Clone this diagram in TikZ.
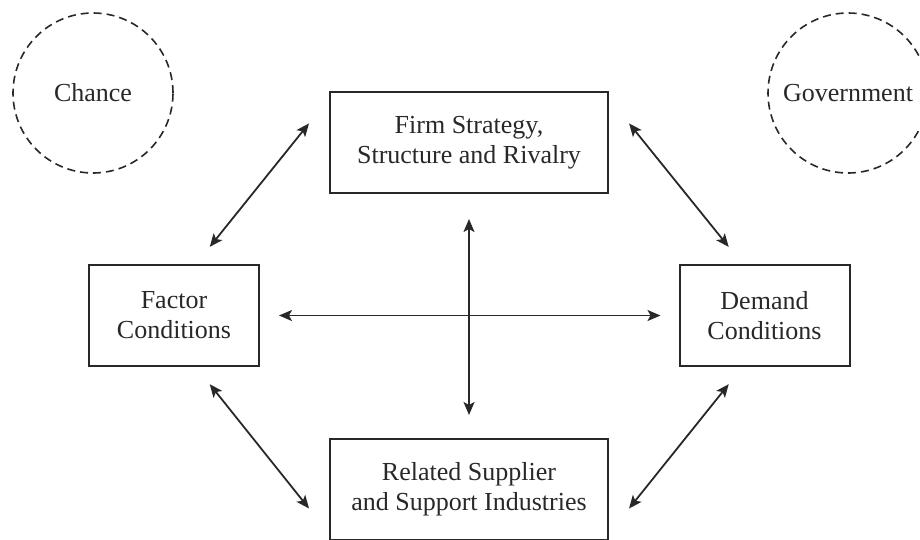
\documentclass[tikz,border=0pt]{standalone}
\usepackage{fontspec}
\setmainfont{Liberation Serif}
\usepackage{tikz}
\definecolor{ink}{RGB}{40,40,40}
\usetikzlibrary{positioning,arrows.meta,calc}
\tikzset{%
  factor/.style={draw=ink, line width=2pt, rectangle, minimum height=101pt,
    align=center, text=ink, font=\fontsize{26}{30}\selectfont},% diamond box
  smallbox/.style={factor, minimum width=170pt},% side boxes
  widebox/.style={factor, minimum width=278pt},% top / bottom boxes
  outside/.style={draw=ink, circle, dashed, dash pattern=on 8pt off 5pt,
    line width=1.6pt, minimum size=160pt, text=ink,
    font=\fontsize{26}{30}\selectfont},% chance / government
  link/.style={draw=ink, line width=1.8pt,
    {Stealth[length=13pt,width=11pt,inset=3pt]}-{Stealth[length=13pt,width=11pt,inset=3pt]}}% double arrows
}

\begin{document}
\begin{tikzpicture}[x=1pt, y=-1pt]
\useasboundingbox (0,0) rectangle (920,539);

\node[outside] (chance) at (93, 93) {Chance};
\node[outside] (gov) at (848, 93) {Government};

\node[widebox] (firm) at (469, 142.5) {Firm Strategy,\\Structure and Rivalry};
\node[smallbox] (fac) at (174, 315.5) {Factor\\Conditions};
\node[smallbox] (dem) at (764.5, 315.5) {Demand\\Conditions};
\node[widebox] (rel) at (469, 489.5) {Related Supplier\\and Support Industries};

\draw[link, shorten <=19pt, shorten >=18pt] (fac.east) -- (dem.west);
\draw[link, shorten <=25pt, shorten >=23pt] (firm.south) -- (rel.north);

\draw[link, shorten <=22pt, shorten >=32pt] ([xshift=22pt]fac.north) -- ([yshift=44pt]firm.west);
\draw[link, shorten <=22pt, shorten >=32pt] ([xshift=-22pt]dem.north) -- ([yshift=44pt]firm.east);
\draw[link, shorten <=22pt, shorten >=32pt] ([xshift=22pt]fac.south) -- ([yshift=-44pt]rel.west);
\draw[link, shorten <=22pt, shorten >=32pt] ([xshift=-22pt]dem.south) -- ([yshift=-44pt]rel.east);

\end{tikzpicture}
\end{document}
